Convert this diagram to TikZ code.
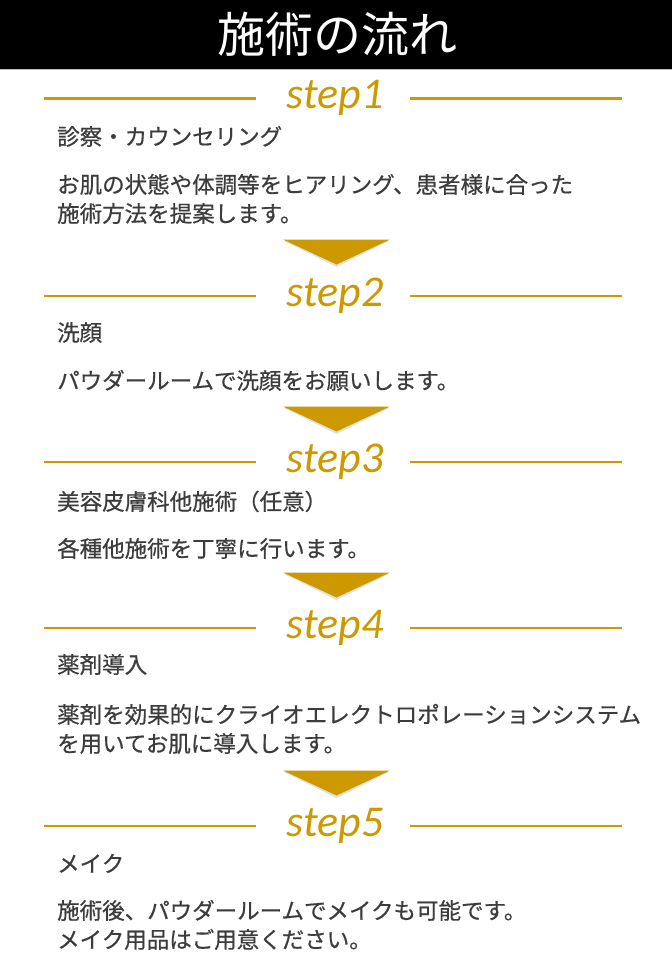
\documentclass[tikz,border=0pt]{standalone}
\usepackage{fontspec}
\setmainfont{Noto Sans CJK JP}
\newfontfamily\bodyfont[FakeBold=0.6]{Noto Sans CJK JP}
\newfontfamily\stepfont{Carlito}
\definecolor{gold}{RGB}{204,153,0}
\definecolor{txt}{RGB}{60,60,60}
\begin{document}
\begin{tikzpicture}[x=1pt,y=-1pt,
  steplbl/.style={font=\stepfont\itshape\fontsize{44}{44}\selectfont, text=gold, inner sep=0, anchor=base},
  rulegold/.style={draw=gold, line width=2.8pt},
  txtline/.style={font=\bodyfont\fontsize{22.5}{27}\selectfont, text=txt, inner sep=0, anchor=base west},
  tri/.style={fill=gold},
  trishadow/.style={fill=black, opacity=0.12}]
\useasboundingbox (0,0) rectangle (672,972);
% header
\fill[black] (0,0) rectangle (672,69);
\draw[black!25, line width=1pt] (0,69.5) -- (672,69.5);
\node[font=\fontsize{48}{48}\selectfont, text=white, inner sep=0] (title) at (337,34) {施術の流れ};

% step rules and labels
\foreach \y/\n in {98.5/1, 296/2, 462/3, 628/4, 826/5}{
  \draw[rulegold] (44,\y) -- (256,\y);
  \draw[rulegold] (410,\y) -- (622,\y);
  \node[steplbl] (step\n) at (335,\y+10) {step\n};
}

% triangles
\foreach \t/\n in {239.5/1, 406.5/2, 572.5/3, 770.5/4}{
  \fill[trishadow] (284,\t+1.5) -- (389,\t+1.5) -- (336.5,\t+27.5) -- cycle;
  \fill[tri] (283,\t) -- (390,\t) -- (336.5,\t+25) -- cycle;
}

% texts
\node[txtline] (h1) at (57,145) {診察・カウンセリング};
\node[txtline] (b1a) at (57,193) {お肌の状態や体調等をヒアリング、患者様に合った};
\node[txtline] (b1b) at (57,222) {施術方法を提案します。};

\node[txtline] (h2) at (57,341) {洗顔};
\node[txtline] (b2a) at (57,389) {パウダールームで洗顔をお願いします。};

\node[txtline] (h3) at (57,510) {美容皮膚科他施術（任意）};
\node[txtline] (b3a) at (57,557) {各種他施術を丁寧に行います。};

\node[txtline] (h4) at (57,673) {薬剤導入};
\node[txtline] (b4a) at (57,723) {薬剤を効果的にクライオエレクトロポレーションシステム};
\node[txtline] (b4b) at (57,752) {を用いてお肌に導入します。};

\node[txtline] (h5) at (57,872) {メイク};
\node[txtline] (b5a) at (57,919) {施術後、パウダールームでメイクも可能です。};
\node[txtline] (b5b) at (57,948) {メイク用品はご用意ください。};
\end{tikzpicture}
\end{document}
